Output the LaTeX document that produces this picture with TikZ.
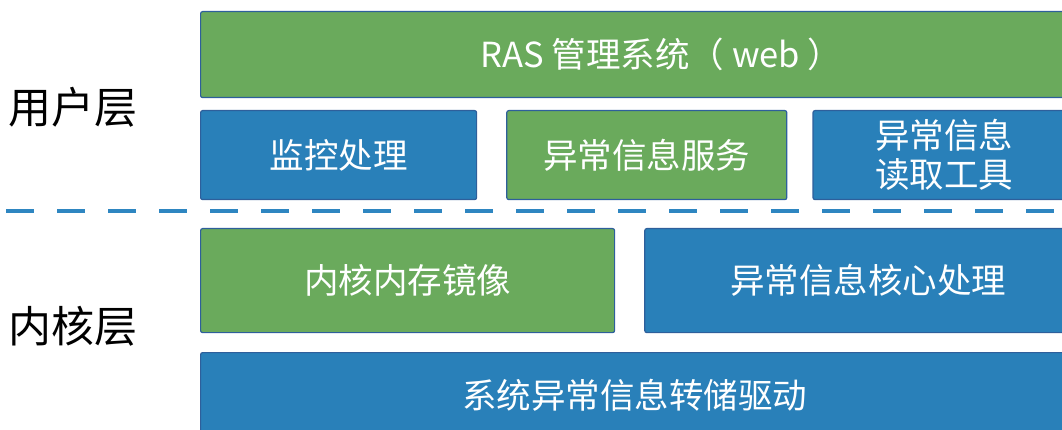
\documentclass[tikz,border=0pt]{standalone}
\usepackage{fontspec}
\setmainfont{Noto Sans CJK SC}
\usetikzlibrary{positioning}
\definecolor{boxgreen}{RGB}{106,170,92}
\definecolor{boxblue}{RGB}{41,128,185}
\definecolor{edgeblue}{RGB}{46,95,155}
\definecolor{dashblue}{RGB}{46,134,193}

\begin{document}
\begin{tikzpicture}[
    x=1pt, y=-1pt,
    % box styles
    layerbox/.style={
        draw=edgeblue,
        line width=1.2pt,
        rounded corners=2pt,
        text=white,
        align=center,
        inner sep=0pt,
        anchor=north west,
        font=\fontsize{34.5}{39}\selectfont
    },
    greenbox/.style={layerbox, fill=boxgreen},
    bluebox/.style={layerbox, fill=boxblue},
    % layer names on the left
    layername/.style={
        font=\fontsize{43}{48}\selectfont,
        text=black
    },
    divider/.style={
        draw=dashblue,
        line width=3.5pt,
        dash pattern=on 28pt off 23pt
    }
]
    \useasboundingbox (0,0) rectangle (1062,430);
    \clip (0,0) rectangle (1062,430);

    % --- 1. user layer ---
    \node[greenbox, minimum width=922pt, minimum height=86pt] (web) at (200,11) {RAS 管理系统（ web ）};

    \node[bluebox, minimum width=276pt, minimum height=89pt] (monitor) at (200,110) {监控处理};
    \node[greenbox, minimum width=280pt, minimum height=89pt, right=29pt of monitor] (service) {异常信息服务};
    \node[bluebox, minimum width=262pt, minimum height=89pt, right=25pt of service] (reader) {异常信息\\读取工具};

    \node[layername] (userlayer) at (73,107) {用户层};

    % --- 2. divider ---
    \draw[divider] (6,211) -- (1062,211);

    % --- 3. kernel layer ---
    \node[greenbox, minimum width=414pt, minimum height=104pt] (mirror) at (200,228) {内核内存镜像};
    \node[bluebox, minimum width=447pt, minimum height=104pt, right=29pt of mirror] (core) {异常信息核心处理};

    \node[bluebox, minimum width=868pt, minimum height=86pt] (dump) at (200,352) {系统异常信息转储驱动};

    \node[layername] (kernellayer) at (73,326) {内核层};

\end{tikzpicture}
\end{document}
